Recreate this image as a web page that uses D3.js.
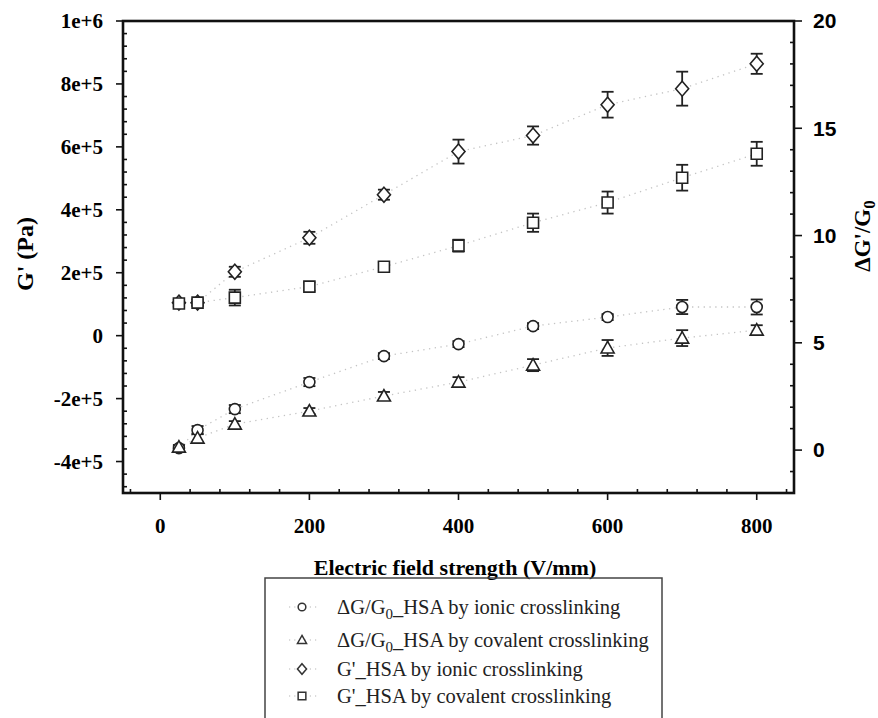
<!DOCTYPE html>
<html lang="en">
<head>
  <meta charset="utf-8">
  <title>G' and ΔG'/G0 vs electric field strength</title>
  <script type="text/javascript" src="https://cdn.jsdelivr.net/npm/d3@7"></script>
  <style type="text/css">
    body { margin: 0; background: #fff; }
    svg { display: block; }
  </style>
</head>
<body>

<div id="chart"></div>

<script type="text/javascript">

const w = 878;
const h = 718;

// electric field strength (V/mm)
const field = [25, 50, 100, 200, 300, 400, 500, 600, 700, 800];

// ΔG/G0, right axis
const dgIonic      = [0.09, 0.93, 1.91, 3.17, 4.38, 4.94, 5.78, 6.20, 6.67, 6.67];
const dgIonicErr   = [0.10, 0.19, 0.19, 0.19, 0.14, 0.14, 0.14, 0.14, 0.33, 0.35];
const dgCovalent    = [0.14, 0.56, 1.21, 1.82, 2.52, 3.17, 3.96, 4.76, 5.22, 5.59];
const dgCovalentErr = [0.10, 0.19, 0.14, 0.14, 0.19, 0.23, 0.28, 0.37, 0.37, 0.23];

// G' (Pa), left axis
const gIonic      = [1.05e5, 1.05e5, 2.03e5, 3.11e5, 4.48e5, 5.85e5, 6.36e5, 7.34e5, 7.85e5, 8.64e5];
const gIonicErr   = [1.0e4, 1.0e4, 1.6e4, 1.9e4, 1.6e4, 3.8e4, 2.9e4, 4.1e4, 5.4e4, 3.2e4];
const gCovalent    = [1.02e5, 1.05e5, 1.21e5, 1.56e5, 2.19e5, 2.86e5, 3.59e5, 4.23e5, 5.02e5, 5.78e5];
const gCovalentErr = [1.0e4, 1.0e4, 2.5e4, 1.3e4, 1.3e4, 1.9e4, 2.9e4, 3.5e4, 4.1e4, 3.8e4];

const xTicks = [0, 200, 400, 600, 800];
const leftTicks = [-4e5, -2e5, 0, 2e5, 4e5, 6e5, 8e5, 1e6];
const leftTickLabels = ["-4e+5", "-2e+5", "0", "2e+5", "4e+5", "6e+5", "8e+5", "1e+6"];
const rightTicks = [0, 5, 10, 15, 20];

const legendLabels = [
  ["ΔG/G", "0", "_HSA by ionic crosslinking"],
  ["ΔG/G", "0", "_HSA by covalent crosslinking"],
  ["G'_HSA by ionic crosslinking", "", ""],
  ["G'_HSA by covalent crosslinking", "", ""]
];

const plot = { left: 123, right: 794, top: 21, bottom: 493 };

const x = d3.scaleLinear().domain([-50, 850]).range([plot.left, plot.right]);
const yL = d3.scaleLinear().domain([-5e5, 1e6]).range([plot.bottom, plot.top]);
const yR = d3.scaleLinear().domain([-2, 20]).range([plot.bottom, plot.top]);

const series = [
  { shape: "circle",   vals: dgIonic,    err: dgIonicErr,    y: yR },
  { shape: "triangle", vals: dgCovalent, err: dgCovalentErr, y: yR },
  { shape: "diamond",  vals: gIonic,     err: gIonicErr,     y: yL },
  { shape: "square",   vals: gCovalent,  err: gCovalentErr,  y: yL }
];

function shapePath(shape, s) {
  // s = scale factor, 1 for plot markers
  if (shape === "circle") {
    const r = 5.5 * s;
    return `M${-r},0A${r},${r} 0 1,0 ${r},0A${r},${r} 0 1,0 ${-r},0Z`;
  }
  if (shape === "square") {
    const a = 5.5 * s;
    return `M${-a},${-a}H${a}V${a}H${-a}Z`;
  }
  if (shape === "diamond") {
    return `M0,${-7.5 * s}L${6.5 * s},0L0,${7.5 * s}L${-6.5 * s},0Z`;
  }
  // triangle
  return `M0,${-6.5 * s}L${6.5 * s},${5 * s}L${-6.5 * s},${5 * s}Z`;
}

const svg = d3.select("#chart")
  .append("svg")
  .attr("width", w)
  .attr("height", h);

const serif = "'Liberation Serif', 'Times New Roman', serif";
const sans = "'Liberation Sans', Arial, sans-serif";

// dotted connecting lines
series.forEach(s => {
  const line = d3.line()
    .x((d, i) => x(field[i]))
    .y(d => s.y(d));
  svg.append("path")
    .attr("d", line(s.vals))
    .attr("fill", "none")
    .attr("stroke", "#c4c4c4")
    .attr("stroke-width", 1.3)
    .attr("stroke-dasharray", "1.3,4.5");
});

// error bars
series.forEach(s => {
  const g = svg.append("g")
    .attr("stroke", "#222")
    .attr("stroke-width", 1.8);
  s.vals.forEach((v, i) => {
    const cx = x(field[i]);
    const y0 = s.y(v + s.err[i]);
    const y1 = s.y(v - s.err[i]);
    g.append("line").attr("x1", cx).attr("x2", cx).attr("y1", y0).attr("y2", y1);
    g.append("line").attr("x1", cx - 6).attr("x2", cx + 6).attr("y1", y0).attr("y2", y0);
    g.append("line").attr("x1", cx - 6).attr("x2", cx + 6).attr("y1", y1).attr("y2", y1);
  });
});

// markers
series.forEach(s => {
  svg.append("g")
    .selectAll("path")
    .data(s.vals)
    .enter()
    .append("path")
    .attr("transform", (d, i) => `translate(${x(field[i])},${s.y(d)})`)
    .attr("d", shapePath(s.shape, 1))
    .attr("fill", "#fff")
    .attr("stroke", "#222")
    .attr("stroke-width", 1.6);
});

// frame
svg.append("rect")
  .attr("x", plot.left)
  .attr("y", plot.top)
  .attr("width", plot.right - plot.left)
  .attr("height", plot.bottom - plot.top)
  .attr("fill", "none")
  .attr("stroke", "#111")
  .attr("stroke-width", 2.6);

const ticks = svg.append("g").attr("stroke", "#111").attr("stroke-width", 1.6);

// bottom axis: majors outward, minors inward every 40
xTicks.forEach(t => {
  ticks.append("line").attr("x1", x(t)).attr("x2", x(t))
    .attr("y1", plot.bottom).attr("y2", plot.bottom + 7);
});
d3.range(-40, 850, 40).filter(t => t % 200 !== 0).forEach(t => {
  ticks.append("line").attr("x1", x(t)).attr("x2", x(t))
    .attr("y1", plot.bottom).attr("y2", plot.bottom - 4);
});

// left axis
leftTicks.forEach(t => {
  ticks.append("line").attr("x1", plot.left - 7).attr("x2", plot.left)
    .attr("y1", yL(t)).attr("y2", yL(t));
});
d3.range(-4.8e5, 1e6, 4e4).filter(t => Math.abs(t % 2e5) > 1).forEach(t => {
  ticks.append("line").attr("x1", plot.left).attr("x2", plot.left + 4)
    .attr("y1", yL(t)).attr("y2", yL(t));
});

// right axis
rightTicks.forEach(t => {
  ticks.append("line").attr("x1", plot.right).attr("x2", plot.right + 8)
    .attr("y1", yR(t)).attr("y2", yR(t));
});
d3.range(-1, 20, 1).filter(t => t % 5 !== 0).forEach(t => {
  ticks.append("line").attr("x1", plot.right).attr("x2", plot.right - 4)
    .attr("y1", yR(t)).attr("y2", yR(t));
});

// tick labels
svg.append("g")
  .selectAll("text")
  .data(xTicks)
  .enter()
  .append("text")
  .attr("x", d => x(d))
  .attr("y", 533)
  .attr("text-anchor", "middle")
  .attr("font-family", serif)
  .attr("font-weight", "bold")
  .attr("font-size", 21)
  .text(d => d);

svg.append("g")
  .selectAll("text")
  .data(leftTicks)
  .enter()
  .append("text")
  .attr("x", 103)
  .attr("y", d => yL(d))
  .attr("dy", "0.35em")
  .attr("text-anchor", "end")
  .attr("font-family", serif)
  .attr("font-weight", "bold")
  .attr("font-size", 21)
  .text((d, i) => leftTickLabels[i]);

svg.append("g")
  .selectAll("text")
  .data(rightTicks)
  .enter()
  .append("text")
  .attr("x", 813)
  .attr("y", d => yR(d))
  .attr("dy", "0.35em")
  .attr("font-family", sans)
  .attr("font-weight", "bold")
  .attr("font-size", 21)
  .text(d => d);

// axis titles
svg.append("text")
  .attr("x", 455)
  .attr("y", 575)
  .attr("text-anchor", "middle")
  .attr("font-family", serif)
  .attr("font-weight", "bold")
  .attr("font-size", 22)
  .text("Electric field strength (V/mm)");

svg.append("text")
  .attr("transform", "translate(33,254) rotate(-90)")
  .attr("text-anchor", "middle")
  .attr("font-family", serif)
  .attr("font-weight", "bold")
  .attr("font-size", 24)
  .text("G' (Pa)");

const rt = svg.append("text")
  .attr("transform", "translate(870,236) rotate(-90)")
  .attr("text-anchor", "middle")
  .attr("font-family", serif)
  .attr("font-weight", "bold")
  .attr("font-size", 23);
rt.append("tspan").text("ΔG'/G");
rt.append("tspan").attr("dy", 5).attr("font-size", 17).text("0");

// legend
svg.append("rect")
  .attr("x", 265)
  .attr("y", 578)
  .attr("width", 397)
  .attr("height", 160)
  .attr("fill", "none")
  .attr("stroke", "#444")
  .attr("stroke-width", 1.5);

const rowY = [607, 640, 669, 696];
series.forEach((s, i) => {
  const cy = rowY[i];
  svg.append("line")
    .attr("x1", 289).attr("x2", 317)
    .attr("y1", cy).attr("y2", cy)
    .attr("stroke", "#b8b8b8")
    .attr("stroke-width", 1.2)
    .attr("stroke-dasharray", "1.2,4");
  svg.append("path")
    .attr("transform", `translate(302,${cy})`)
    .attr("d", shapePath(s.shape, 0.7))
    .attr("fill", "#fff")
    .attr("stroke", "#333")
    .attr("stroke-width", 1.5);
  const t = svg.append("text")
    .attr("x", 337)
    .attr("y", cy + 7)
    .attr("font-family", serif)
    .attr("font-size", 20.5)
    .attr("fill", "#222");
  const [a, sub, b] = legendLabels[i];
  t.append("tspan").text(a);
  if (sub) {
    t.append("tspan").attr("dy", 5).attr("font-size", 15).text(sub);
    t.append("tspan").attr("dy", -5).text(b);
  }
});

</script>

</body>
</html>
